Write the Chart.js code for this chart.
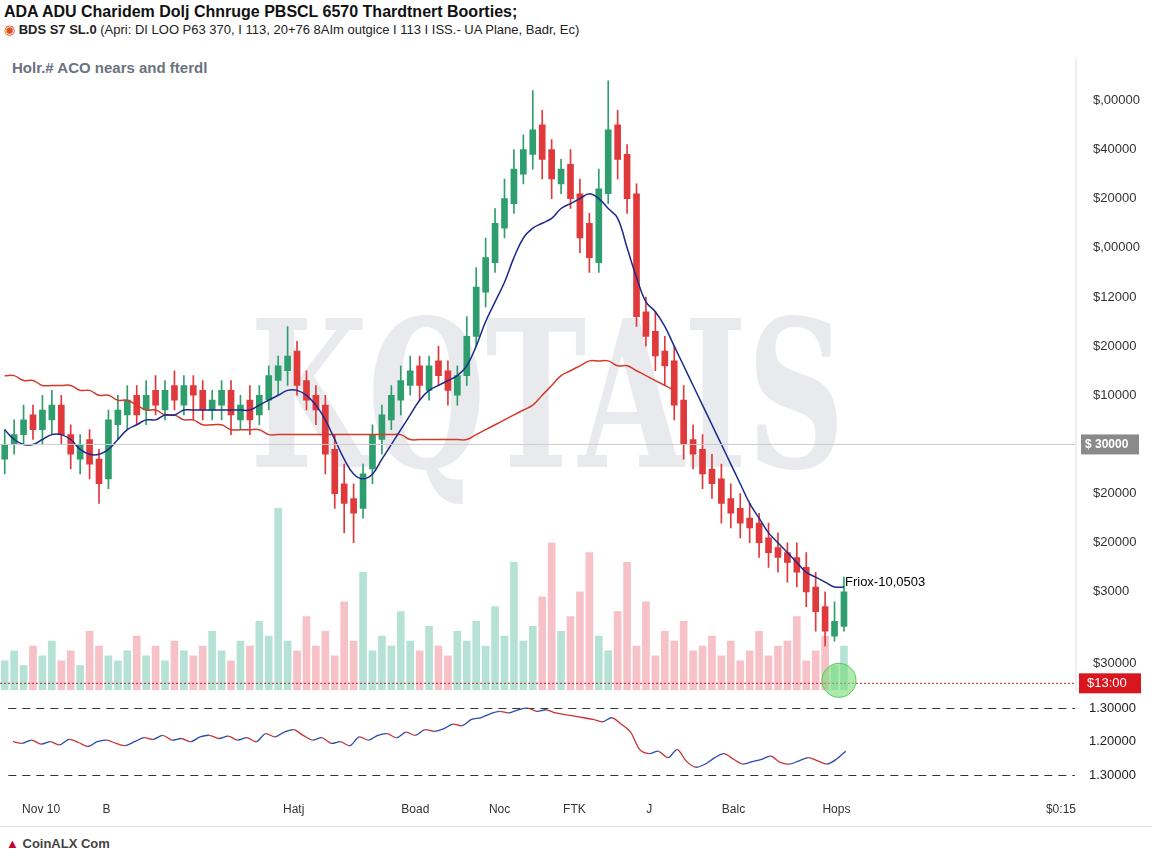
<!DOCTYPE html>
<html><head><meta charset="utf-8">
<script src="https://cdn.jsdelivr.net/npm/chart.js@4/dist/chart.umd.min.js"></script>
<style>
body{margin:0;width:1152px;height:864px;background:#fff;font-family:"Liberation Sans",Arial,sans-serif;position:relative;overflow:hidden}
.t{position:absolute;white-space:nowrap}
canvas{position:absolute;left:0}
</style></head><body>
<div class="t" style="left:4px;top:3px;font-size:16px;font-weight:bold;color:#111">ADA ADU Charidem Dolj Chnruge PBSCL 6570 Thardtnert Boorties;</div>
<div class="t" style="left:4px;top:22px;font-size:13px;color:#222"><span style="color:#e05020">&#9673;</span> <b>BDS S7 SL.0</b> (Apri: DI LOO P63 370, I 113, 20+76 8AIm outgice I 113 I ISS.- UA Plane, Badr, Ec)</div>
<div class="t" style="left:12px;top:59px;font-size:15px;font-weight:bold;color:#6b7280">Holr.# ACO nears and fterdl</div>
<div class="t" style="left:250px;top:275px;font-size:205px;font-family:'DejaVu Serif',serif;font-weight:bold;color:rgba(200,202,212,0.4);transform:scaleX(0.66);transform-origin:left top">KQTAIS</div>
<div style="position:absolute;left:0;top:826px;width:1152px;border-top:1px solid #ddd"></div>
<div class="t" style="left:6px;top:836px;font-size:13px;font-weight:bold;color:#444"><span style="color:#c03">&#9650;</span> CoinALX Com</div>
<canvas id="c1" style="top:58px"></canvas>
<canvas id="c2" style="top:680px"></canvas>
<script>
const opens=[47,50,52,56,53,55,58,52,47,51,47,43,54,56,60,57,61,57,62,58,62,61,57,58,61,55,59,56,59,63,65,69,63,60,58,49,42,39,37,45,51,55,59,62,66,61,67,65,60,64,72,81,87,94,99,105,109,115,110,103,107,101,95,87,101,115,109,101,77,73,69,67,59,51,49,45,43,39,37,35,34,31,29,28,27,25,21,17,11,13];
const closes=[50,52,55,53,57,58,52,48,50,46,42,55,57,59,56,60,58,61,59,62,60,57,59,61,56,58,55,60,64,66,68,62,59,57,48,40,38,36,44,52,56,60,63,65,62,66,64,61,64,72,82,88,95,100,106,110,114,108,104,106,100,92,88,102,114,108,100,76,72,68,66,58,50,48,44,42,38,36,34,33,30,28,27,26,24,20,16,12,14,20];
const highs=[53,55,58,58,60,61,60,54,52,53,49,57,60,62,62,63,64,63,65,64,64,63,61,63,63,60,62,62,66,68,74,71,65,62,60,52,46,42,46,54,58,62,66,68,68,68,70,67,66,76,86,92,98,104,110,113,122,118,112,108,110,104,97,106,124,118,111,103,80,77,72,70,62,54,52,48,46,42,40,38,36,34,32,30,30,28,24,20,18,23];
const lows=[44,48,50,51,50,52,50,45,44,43,38,41,51,53,54,54,56,55,57,56,55,55,55,55,52,53,52,54,57,60,62,60,57,54,44,37,32,30,35,42,48,53,56,60,59,59,62,58,58,62,70,78,85,92,97,103,106,104,100,101,98,89,85,85,99,104,97,74,70,65,62,55,47,45,41,39,34,33,31,30,27,25,24,22,21,17,12,9,10,12];
const volumes=[6,8,5,9,7,10,6,8,5,12,9,7,6,8,11,7,9,6,10,8,7,9,12,8,6,10,9,14,11,37,10,8,15,9,12,7,18,10,24,8,11,9,16,10,8,13,9,7,12,10,14,9,17,11,26,10,13,19,30,12,15,20,28,11,8,16,26,9,18,7,12,10,14,8,9,11,7,10,6,8,12,7,9,10,15,6,8,11,5,9];
const maFast=[53,51,50,50,51,52,52,51,49,48,48,49,51,53,54,55,55,56,56,57,57,57,57,57,57,57,57,58,59,60,61,61,60,58,55,51,47,44,43,44,47,50,53,56,59,61,62,63,64,66,70,75,79,83,88,92,94,95,96,98,99,100,101,100,98,96,90,84,79,77,74,70,66,62,58,54,50,46,42,38,35,32,30,28,26,24,23,22,21,21];
const maSlow=[64,64,63,63,62,62,62,62,61,61,60,60,59,59,58,57,57,56,56,55,55,54,54,54,53,53,53,53,52,52,52,52,52,52,52,52,52,52,52,52,52,52,52,51,51,51,51,51,51,51,52,53,54,55,56,57,58,60,62,64,65,66,67,67,67,66,66,65,64,63,62,61];
const osc=[50,48,52,47,50,46,53,49,44,50,52,48,45,50,55,53,58,52,54,50,56,58,54,57,52,55,50,60,56,62,65,58,52,55,48,50,45,56,52,58,60,55,62,58,65,63,66,72,70,78,80,85,88,86,90,92,88,90,86,84,82,80,78,75,80,72,62,40,35,38,30,40,25,18,22,30,35,28,22,25,28,32,24,22,26,30,26,22,28,38];
const priceTicks={120:"$,00000",110:"$40000",100:"$20000",90:"$,00000",80:"$12000",70:"$20000",60:"$10000",40:"$20000",30:"$20000",20:"$3000",5.5:"$30000"};
const oscTicks={92:"1.30000",50:"1.20000",8:"1.30000"};
const xTickLabels={3:"Nov 10",10:"B",30:"Hatj",43:"Boad",52:"Noc",60:"FTK",68:"J",77:"Balc",88:"Hops",112:"$0:15"};
const N=114;
const labels=Array.from({length:N},(_,i)=>i);
const pad=a=>a.concat(Array(N-a.length).fill(null));
const up=i=>closes[i]>=opens[i];
const G='#2f9e6e',R='#e0393b';
const candleCol=opens.map((o,i)=>up(i)?G:R);
const volCol=opens.map((o,i)=>up(i)?'rgba(90,190,160,0.45)':'rgba(235,120,130,0.45)');
function sizeCanvas(id,h){const c=document.getElementById(id);c.style.width='1152px';c.style.height=h+'px';c.width=1152;c.height=h;return c;}
const over={id:'over',afterDatasetsDraw(ch){const {ctx,chartArea:a,scales:{y}}=ch;ctx.save();
 let p=y.getPixelForValue(50);ctx.strokeStyle='#ccc';ctx.lineWidth=1;ctx.beginPath();ctx.moveTo(a.left,p);ctx.lineTo(a.right,p);ctx.stroke();
 ctx.fillStyle='#8a8a8a';ctx.fillRect(a.right+6,p-10,58,20);ctx.fillStyle='#fff';ctx.font='bold 12px Liberation Sans';ctx.textBaseline='middle';ctx.fillText('$ 30000',a.right+10,p);
 let q=y.getPixelForValue(1.4);ctx.strokeStyle='#c0202a';ctx.setLineDash([2,2]);ctx.beginPath();ctx.moveTo(a.left,q);ctx.lineTo(a.right,q);ctx.stroke();ctx.setLineDash([]);
 ctx.fillStyle='#d9161e';ctx.fillRect(a.right+4,q-10,62,20);ctx.fillStyle='#fff';ctx.font='13px Liberation Sans';ctx.fillText('$13:00',a.right+12,q);
 const xs=ch.scales.x;let cx=xs.getPixelForValue(89)-5;ctx.fillStyle='rgba(120,220,120,0.6)';ctx.strokeStyle='#5c5';ctx.beginPath();ctx.arc(cx,q-3,17,0,7);ctx.fill();ctx.stroke();
 ctx.fillStyle='#000';ctx.font='13px Liberation Sans';ctx.fillText('Friox-10,0503',cx+6,y.getPixelForValue(22));
 ctx.strokeStyle='#ddd';ctx.beginPath();ctx.moveTo(a.right+1,0);ctx.lineTo(a.right+1,a.bottom);ctx.stroke();
 ctx.restore();}};
new Chart(sizeCanvas('c1',650),{type:'bar',data:{labels,datasets:[
 {type:'line',data:pad(maFast),borderColor:'#1b2a8a',borderWidth:1.5,pointRadius:0,tension:0.4,order:0},
 {type:'line',data:pad(maSlow),borderColor:'#d23a2a',borderWidth:1.5,pointRadius:0,tension:0.4,order:0},
 {data:pad(opens.map((o,i)=>[o,closes[i]])),backgroundColor:candleCol,barThickness:6,grouped:false,order:1},
 {data:pad(lows.map((l,i)=>[l,highs[i]])),backgroundColor:candleCol,barThickness:1,grouped:false,order:2},
 {data:pad(volumes),yAxisID:'y2',backgroundColor:volCol,barThickness:7,grouped:false,order:10}
]},options:{responsive:false,animation:false,layout:{padding:0},plugins:{legend:{display:false},tooltip:{enabled:false}},
 scales:{x:{display:false,offset:true},
 y:{position:'right',min:0,max:125,grid:{display:false},border:{display:false},afterFit(s){s.width=77},
  afterBuildTicks(s){s.ticks=Object.keys(priceTicks).map(v=>({value:+v}))},
  ticks:{color:'#333',font:{size:13},padding:10,callback:v=>priceTicks[v]||''}},
 y2:{display:false,min:0,max:125}}},plugins:[over]});
new Chart(sizeCanvas('c2',150),{type:'line',data:{labels,datasets:[{data:pad(osc),borderWidth:1.3,pointRadius:0,tension:0.3,
 segment:{borderColor:c=>c.p1.parsed.y>=c.p0.parsed.y?'#2a4bb0':'#c8323a'}}]},
 options:{responsive:false,animation:false,layout:{padding:{top:5}},plugins:{legend:{display:false},tooltip:{enabled:false}},
 scales:{x:{offset:true,grid:{display:false},border:{display:false},ticks:{autoSkip:false,maxRotation:0,color:'#333',font:{size:12},padding:13,callback:(v)=>xTickLabels[v]||''}},
 y:{position:'right',min:0,max:100,afterFit(s){s.width=77},afterBuildTicks(s){s.ticks=Object.keys(oscTicks).map(v=>({value:+v}))},
  grid:{color:c=>c.tick&&c.tick.value===50?'rgba(0,0,0,0)':'#333',drawTicks:false},border:{display:false,dash:[8,6]},
  ticks:{color:'#222',font:{size:13},padding:14,callback:v=>oscTicks[v]}}}}});
</script></body></html>
